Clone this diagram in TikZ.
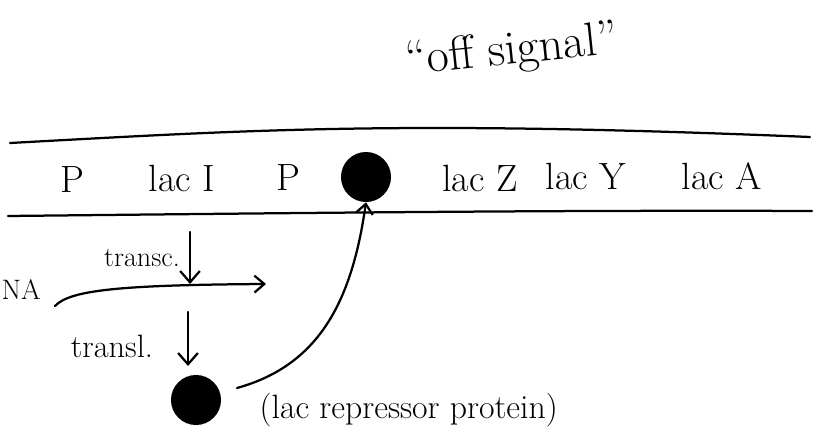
\documentclass[tikz,border=0pt]{standalone}
\usetikzlibrary{arrows.meta}
\begin{document}
\begin{tikzpicture}[x=0.025cm,y=-0.025cm,
  ink/.style={line width=1.6pt,line cap=round},
  barb/.style={-{Straight Barb[length=7pt,width=12pt,line width=1.6pt]}},
  lbl/.style={font=\fontsize{27}{30}\selectfont,inner sep=1pt},
  dot/.style={circle,fill=black,draw=none,minimum size=1.25cm}]
\useasboundingbox (0,0) rectangle (817,445);
% title
\node[lbl,font=\fontsize{34}{38}\selectfont,rotate=6] (title) at (512,52) {``off signal''};
% DNA strands
\coordinate (t1) at (10,143);
\coordinate (t2) at (810,137);
\coordinate (b1) at (8,216);
\coordinate (b2) at (812,211);
\draw[ink] (t1) .. controls (250,130) and (400,120) .. (t2);
\draw[ink] (b1) .. controls (300,213) and (550,210) .. (b2);
% genes
\node[lbl] (p1) at (72,180) {P};
\node[lbl] (lacI) at (182,178) {lac I};
\node[lbl] (p2) at (288,178) {P};
\node[dot] (op) at (366,177) {};
\node[lbl] (lacZ) at (480,178) {lac Z};
\node[lbl] (lacY) at (586,176) {lac Y};
\node[lbl] (lacA) at (722,176) {lac A};
% mRNA
\node[lbl,font=\fontsize{20}{22}\selectfont,anchor=west] (mrna) at (0,290) {NA};
\coordinate (m1) at (55,306);
\coordinate (m2) at (266,284);
\coordinate (mc) at (190,284);
\draw[ink,barb] (m1) .. controls (70,290) and (120,285) .. (m2);
% transcription
\coordinate (tcTop) at (190,232);
\draw[ink,-{Straight Barb[length=8pt,width=14pt,line width=1.6pt]}] (tcTop) -- (mc);
\node[lbl,font=\fontsize{20}{22}\selectfont] (transc) at (142,258) {transc.};
% translation
\coordinate (tlTop) at (188,312);
\coordinate (tlBot) at (188,366);
\node[dot] (rep) at (196,400) {};
\draw[ink,-{Straight Barb[length=8pt,width=14pt,line width=1.6pt]}] (tlTop) -- (tlBot);
\node[lbl,font=\fontsize{23}{25}\selectfont] (transl) at (112,346) {transl.};
% repressor binding arrow
\coordinate (rs) at (237,388);
\draw[ink,barb] (rs) .. controls (320,365) and (352,300) .. (op.south);
\node[lbl,font=\fontsize{24}{26}\selectfont,anchor=west] (replbl) at (258,410) {(lac repressor protein)};
\end{tikzpicture}
\end{document}
